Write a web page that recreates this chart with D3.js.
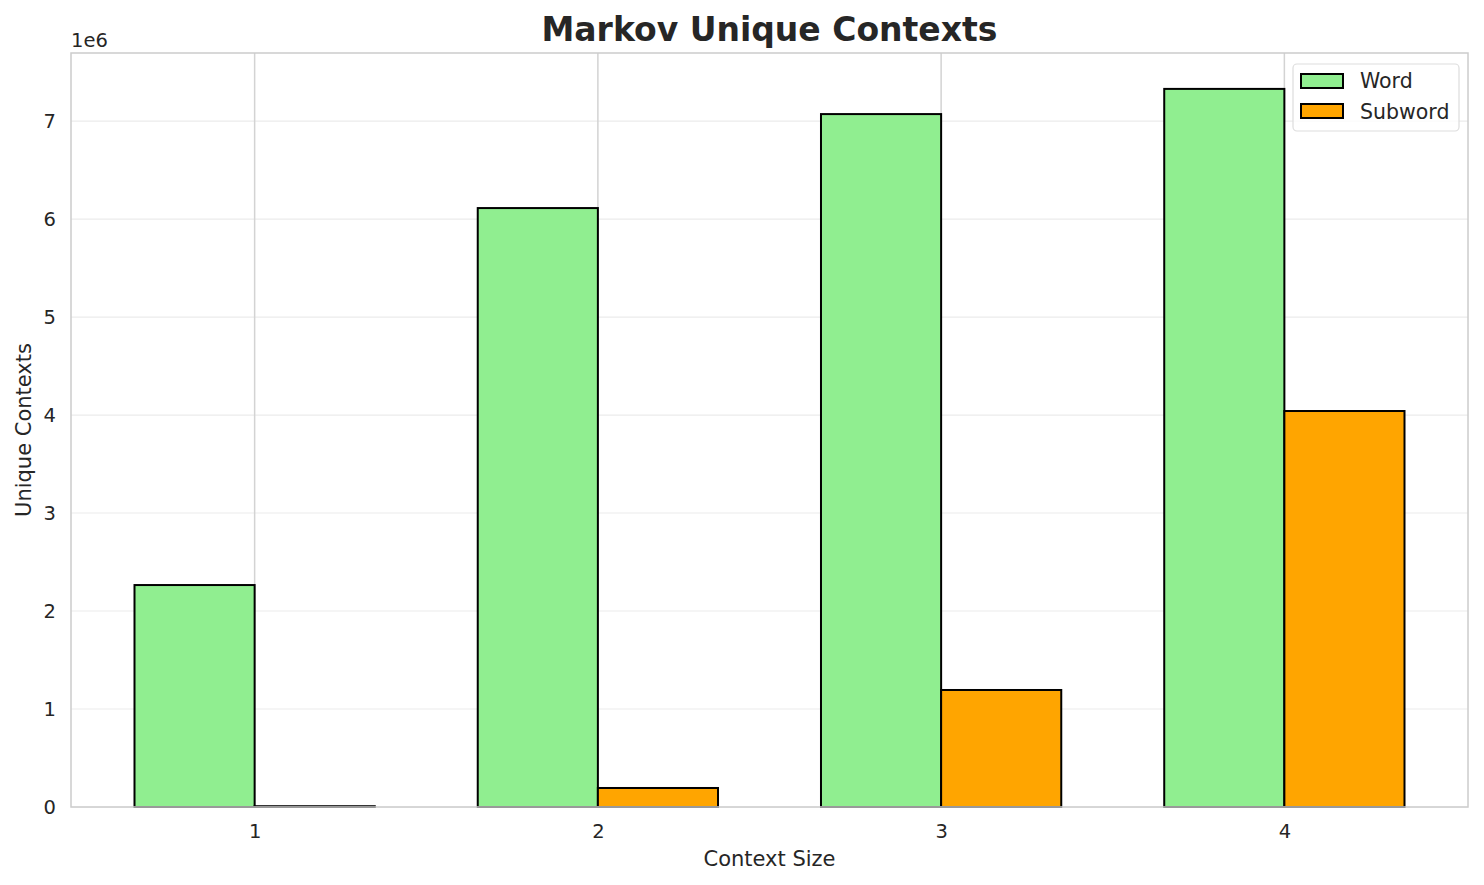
<!DOCTYPE html>
<html><head><meta charset="utf-8">
<script src="https://cdn.jsdelivr.net/npm/d3@7"></script>
<style>body{margin:0;background:#fff;} text{font-family:"DejaVu Sans",sans-serif;fill:#262626;}</style>
</head><body>
<svg id="chart" width="1484" height="885"></svg>
<script>
const categories = ["1", "2", "3", "4"];
const wordValues = [2265000, 6112000, 7071000, 7328000];
const subwordValues = [8000, 194000, 1194000, 4041000];
const seriesNames = ["Word", "Subword"];
const seriesColors = ["#90ee90", "#ffa500"];
const yTicks = [0, 1, 2, 3, 4, 5, 6, 7];

const svg = d3.select("#chart");
const m = {left: 71, right: 1468, top: 53, bottom: 807};
const barW = 0.35;
const x = d3.scaleLinear().domain([-0.535, 3.535]).range([m.left, m.right]);
const yMax = d3.max(wordValues.concat(subwordValues)) * 1.05;
const y = d3.scaleLinear().domain([0, yMax]).range([m.bottom, m.top]);

// horizontal grid
svg.append("g").selectAll("line").data(yTicks).join("line")
  .attr("x1", m.left).attr("x2", m.right)
  .attr("y1", d => y(d * 1e6)).attr("y2", d => y(d * 1e6))
  .attr("stroke", "#ebebeb").attr("stroke-width", 1.2);
// vertical grid
svg.append("g").selectAll("line").data(categories).join("line")
  .attr("x1", (d, i) => x(i)).attr("x2", (d, i) => x(i))
  .attr("y1", m.top).attr("y2", m.bottom)
  .attr("stroke", "#d3d3d3").attr("stroke-width", 1.5);

const series = [wordValues, subwordValues];
series.forEach((vals, s) => {
  svg.append("g").selectAll("rect").data(vals).join("rect")
    .attr("x", (d, i) => x(i + (s === 0 ? -barW : 0)))
    .attr("width", x(barW) - x(0))
    .attr("y", d => y(d))
    .attr("height", d => y(0) - y(d))
    .attr("fill", seriesColors[s])
    .attr("stroke", "#000").attr("stroke-width", 2);
});

// spines
svg.append("rect").attr("x", m.left).attr("y", m.top)
  .attr("width", m.right - m.left).attr("height", m.bottom - m.top)
  .attr("fill", "none").attr("stroke", "#cccccc").attr("stroke-width", 1.5);

// axes
const xAxis = d3.axisBottom(x).tickValues([0, 1, 2, 3]).tickFormat(i => categories[i]).tickSize(0).tickPadding(17);
const gx = svg.append("g").attr("transform", `translate(0,${m.bottom})`).call(xAxis);
gx.select(".domain").remove();
gx.selectAll("text").style("font-size", "19.5px").attr("fill", "#262626");

const yAxis = d3.axisLeft(y).tickValues(yTicks.map(t => t * 1e6)).tickFormat(d => d / 1e6).tickSize(0).tickPadding(15);
const gy = svg.append("g").attr("transform", `translate(${m.left},0)`).call(yAxis);
gy.select(".domain").remove();
gy.selectAll("text").style("font-size", "19.5px").attr("fill", "#262626");

svg.append("text").attr("x", m.left).attr("y", 47).style("font-size", "19.5px").text("1e6");

svg.append("text").attr("x", (m.left + m.right) / 2).attr("y", 41)
  .attr("text-anchor", "middle").style("font-size", "33px").style("font-weight", "bold").text("Markov Unique Contexts");
svg.append("text").attr("x", (m.left + m.right) / 2).attr("y", 866)
  .attr("text-anchor", "middle").style("font-size", "21px").text("Context Size");
svg.append("text").attr("transform", `translate(31,${(m.top + m.bottom) / 2}) rotate(-90)`)
  .attr("text-anchor", "middle").style("font-size", "21px").text("Unique Contexts");

// legend
const lg = svg.append("g");
lg.append("rect").attr("x", 1293).attr("y", 64).attr("width", 166).attr("height", 67)
  .attr("rx", 4).attr("fill", "#fff").attr("fill-opacity", 0.8).attr("stroke", "#dddddd").attr("stroke-width", 1.2);
seriesNames.forEach((n, i) => {
  lg.append("rect").attr("x", 1301).attr("y", 74 + i * 30).attr("width", 42).attr("height", 14)
    .attr("fill", seriesColors[i]).attr("stroke", "#000").attr("stroke-width", 2);
  lg.append("text").attr("x", 1360).attr("y", 88 + i * 31).style("font-size", "20.5px").text(n);
});
</script>
</body></html>
